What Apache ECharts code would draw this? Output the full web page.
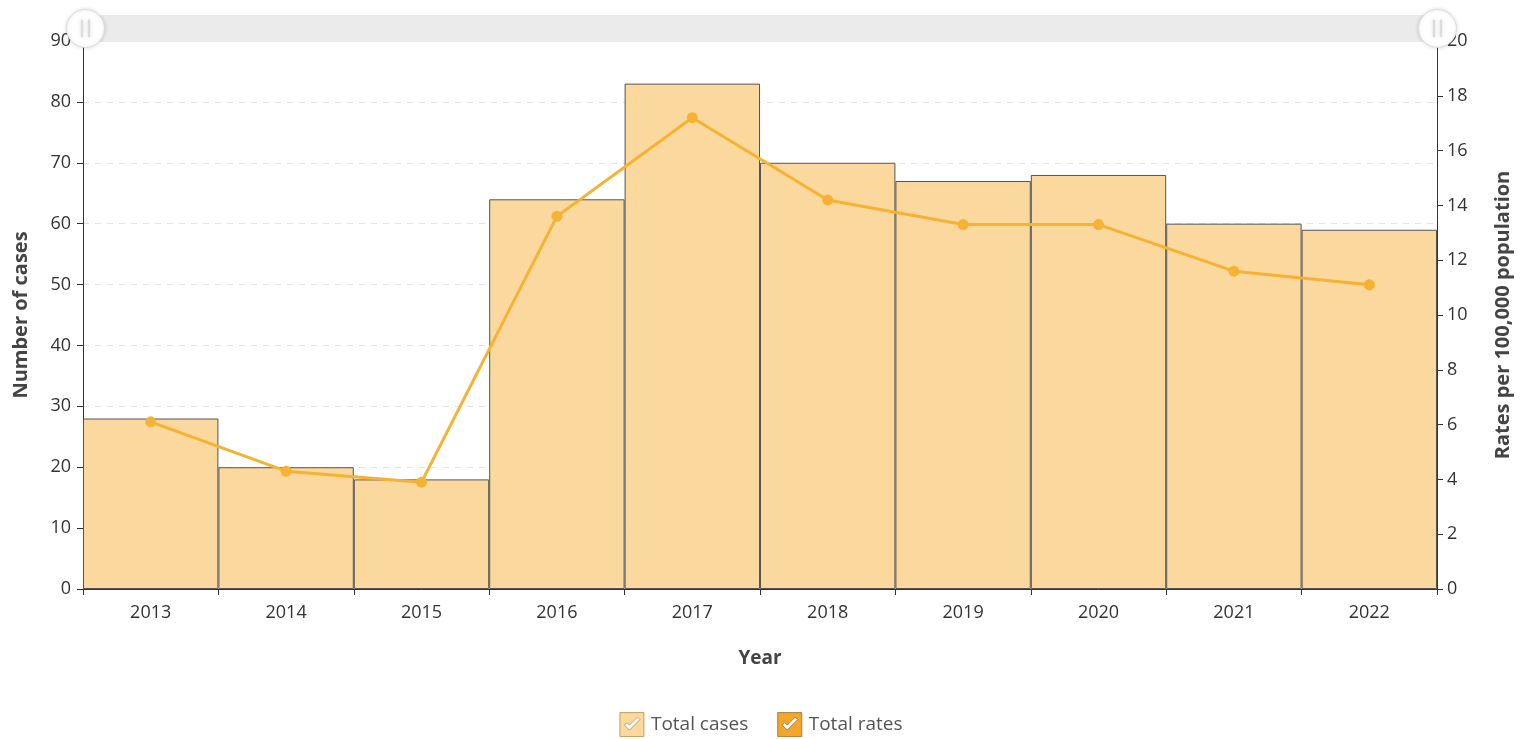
<!DOCTYPE html>
<html>
<head>
<meta charset="utf-8">
<script src="https://cdn.jsdelivr.net/npm/echarts@6/dist/echarts.min.js"></script>
<style>
  html, body { margin: 0; padding: 0; background: #fff; }
  #chart { width: 1522px; height: 739px; }
</style>
</head>
<body>
<div id="chart"></div>
<script>
// data
const years = ['2013', '2014', '2015', '2016', '2017', '2018', '2019', '2020', '2021', '2022']
const totalCases = [28, 20, 18, 64, 83, 70, 67, 68, 60, 59]
const totalRates = [6.1, 4.3, 3.9, 13.6, 17.2, 14.2, 13.3, 13.3, 11.6, 11.1]

const FONT = '"Open Sans", "Noto Sans", sans-serif'
// square with a check-shaped hole (opposite winding)
const checkIcon = 'path://M0,0 H24 V24 H0 Z M4.5,12.5 L9.5,17.5 L20,7 L17.5,4.5 L9.5,12.5 L7,10 Z'
// round handle with two slots
const handleIcon = 'path://M0,-10 A10,10 0 1,1 0,10 A10,10 0 1,1 0,-10 Z ' +
  'M-2.2,-4.5 L-2.2,4.5 L-1.5,4.5 L-1.5,-4.5 Z M1.5,-4.5 L1.5,4.5 L2.2,4.5 L2.2,-4.5 Z'

const chart = echarts.init(document.getElementById('chart'))

const option = {
  animation: false,
  textStyle: { fontFamily: FONT },
  grid: { left: 83, right: 85, top: 41, bottom: 150, outerBoundsMode: 'none' },
  dataZoom: [{
    type: 'slider',
    xAxisIndex: 0,
    start: 0,
    end: 100,
    top: 15,
    height: 27,
    left: 83,
    right: 85,
    showDetail: false,
    showDataShadow: false,
    brushSelect: false,
    moveHandleSize: 0,
    backgroundColor: '#efefef',
    fillerColor: '#ebebeb',
    borderColor: 'transparent',
    handleIcon: handleIcon,
    handleSize: '140%',
    handleStyle: {
      color: '#fff',
      borderColor: '#dcdcdc',
      borderWidth: 1,
      shadowBlur: 4,
      shadowColor: 'rgba(0,0,0,0.15)'
    }
  }],
  legend: {
    bottom: -3,
    left: 'center',
    itemWidth: 24,
    itemHeight: 24,
    itemGap: 29,
    textStyle: { fontSize: 19, color: '#555', fontFamily: FONT, padding: [0, 0, 0, 2] },
    data: [
      { name: 'Total cases', icon: checkIcon, itemStyle: { color: '#fbd89d', borderColor: '#b88a4a', borderWidth: 0.8 } },
      { name: 'Total rates', icon: checkIcon, itemStyle: { color: '#f3a62c', borderColor: '#9a6a2a', borderWidth: 0.8 } }
    ]
  },
  xAxis: {
    type: 'category',
    data: years,
    name: 'Year',
    nameLocation: 'middle',
    nameGap: 60,
    nameTextStyle: { fontSize: 19, fontWeight: 'bold', color: '#444', fontFamily: FONT },
    axisLine: { lineStyle: { color: '#333' } },
    axisTick: { show: true, length: 6, lineStyle: { color: '#333' } },
    axisLabel: { fontSize: 18, color: '#333', margin: 15, fontFamily: FONT }
  },
  yAxis: [
    {
      type: 'value',
      min: 0,
      max: 90,
      interval: 10,
      name: 'Number of cases',
      nameLocation: 'middle',
      nameGap: 52,
      nameTextStyle: { fontSize: 20, fontWeight: 'bold', color: '#444', fontFamily: FONT },
      axisLine: { show: true, lineStyle: { color: '#333' } },
      axisTick: { show: true, length: 6, lineStyle: { color: '#333' } },
      axisLabel: { fontSize: 18, color: '#333', margin: 12, fontFamily: FONT },
      splitLine: { show: true, lineStyle: { color: '#e2e2e2', type: [6, 6] } }
    },
    {
      type: 'value',
      min: 0,
      max: 20,
      interval: 2,
      name: 'Rates per 100,000 population',
      nameLocation: 'middle',
      nameGap: 56,
      nameTextStyle: { fontSize: 20, fontWeight: 'bold', color: '#444', fontFamily: FONT },
      axisLine: { show: true, lineStyle: { color: '#333' } },
      axisTick: { show: true, length: 6, lineStyle: { color: '#333' } },
      axisLabel: { fontSize: 18, color: '#333', margin: 10, fontFamily: FONT },
      splitLine: { show: false }
    }
  ],
  series: [
    {
      name: 'Total cases',
      type: 'bar',
      yAxisIndex: 0,
      data: totalCases,
      barCategoryGap: 0,
      itemStyle: { color: '#fbd89d', borderColor: '#555', borderWidth: 1 }
    },
    {
      name: 'Total rates',
      type: 'line',
      yAxisIndex: 1,
      data: totalRates,
      symbol: 'circle',
      symbolSize: 11,
      lineStyle: { color: '#f6b232', width: 3 },
      itemStyle: { color: '#f6b232' }
    }
  ]
}

chart.setOption(option)
</script>
</body>
</html>
